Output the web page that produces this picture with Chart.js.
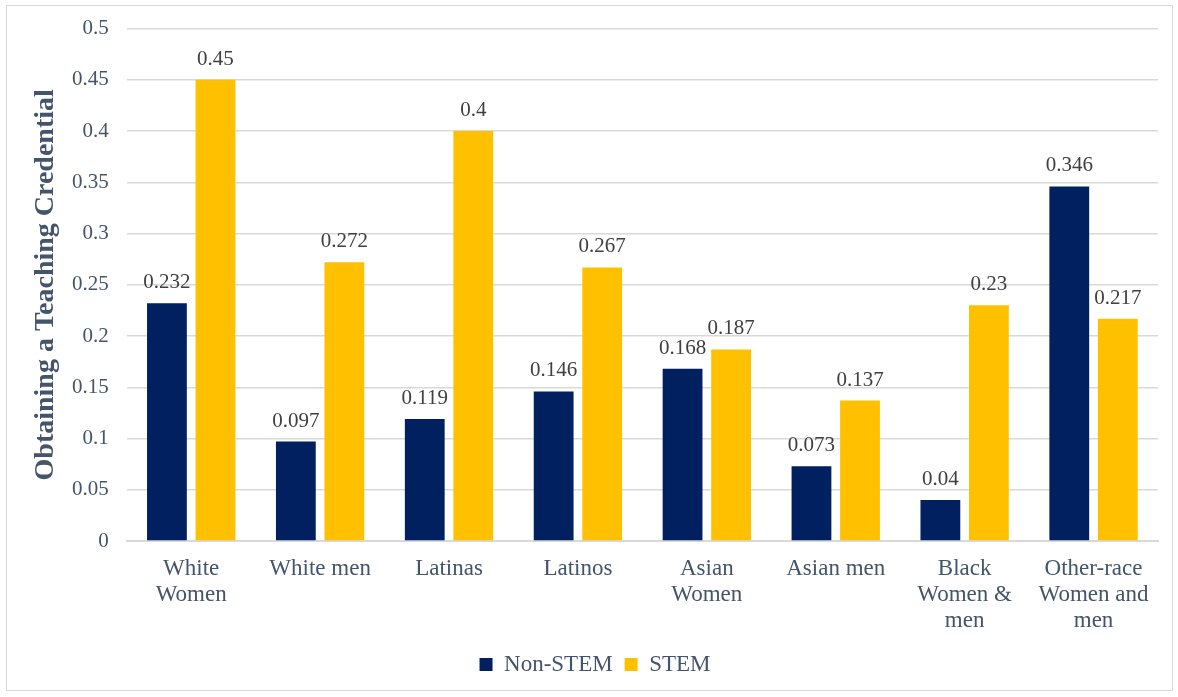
<!DOCTYPE html>
<html>
<head>
<meta charset="utf-8">
<script src="https://cdn.jsdelivr.net/npm/chart.js@4.4.1/dist/chart.umd.min.js"></script>
<style>
  html, body { margin: 0; padding: 0; background: #fff; }
  #frame { position: absolute; left: 6px; top: 5px; width: 1165px; height: 684px; border: 1px solid #d9d9d9; }
  #wrap { position: absolute; left: 0; top: -8px; width: 1165px; height: 692px; }
</style>
</head>
<body>
<div id="frame"><div id="wrap"><canvas id="chart"></canvas></div></div>
<script>
// --- DATA ---
const categories = [
  ['White', 'Women'], 'White men', 'Latinas', 'Latinos', ['Asian', 'Women'],
  'Asian men', ['Black', 'Women &', 'men'], ['Other-race', 'Women and', 'men']
];
const nonStem = [0.232, 0.097, 0.119, 0.146, 0.168, 0.073, 0.04, 0.346];
const stem = [0.45, 0.272, 0.4, 0.267, 0.187, 0.137, 0.23, 0.217];
const yTicks = [0, 0.05, 0.1, 0.15, 0.2, 0.25, 0.3, 0.35, 0.4, 0.45, 0.5];

const serif = '"Liberation Serif", "Times New Roman", serif';
const textColor = '#44546A';
Chart.defaults.font.family = serif;

// draws the value above each bar
const barLabels = {
  id: 'barLabels',
  afterDatasetsDraw(chart) {
    const ctx = chart.ctx;
    ctx.save();
    ctx.font = '21px ' + serif;
    ctx.fillStyle = '#404040';
    ctx.textAlign = 'center';
    ctx.textBaseline = 'bottom';
    chart.data.datasets.forEach((ds, i) => {
      chart.getDatasetMeta(i).data.forEach((bar, j) => {
        ctx.fillText(String(ds.data[j]), bar.x, bar.y - 10);
      });
    });
    ctx.restore();
  }
};

new Chart(document.getElementById('chart'), {
  type: 'bar',
  data: {
    labels: categories,
    datasets: [
      { label: 'Non-STEM', data: nonStem, backgroundColor: '#002060', categoryPercentage: 0.753, barPercentage: 0.82 },
      { label: 'STEM', data: stem, backgroundColor: '#FFC000', categoryPercentage: 0.753, barPercentage: 0.82 }
    ]
  },
  options: {
    responsive: true, maintainAspectRatio: false, animation: false,
    layout: { padding: { left: 25, right: 14, top: 3, bottom: 4 } },
    scales: {
      x: {
        grid: { display: false },
        border: { color: '#d9d9d9', width: 2 },
        ticks: { color: textColor, font: { family: serif, size: 23, lineHeight: 1.13 }, maxRotation: 0, autoSkip: false, padding: 7 }
      },
      y: {
        min: 0, max: 0.5,
        afterBuildTicks: axis => { axis.ticks = yTicks.map(v => ({ value: v })); },
        grid: { color: '#d9d9d9', lineWidth: 1.5, drawTicks: false },
        border: { display: false },
        ticks: { color: textColor, font: { family: serif, size: 21 }, padding: 18, callback: v => String(v) },
        title: { display: true, text: 'Obtaining a Teaching Credential', color: textColor, font: { family: serif, size: 28, weight: 'bold', lineHeight: 1.0 }, padding: { top: 0, bottom: -6 } }
      }
    },
    plugins: {
      legend: {
        position: 'bottom',
        labels: { color: textColor, font: { family: serif, size: 23, lineHeight: 1.0 }, boxWidth: 13, boxHeight: 13, padding: 12 }
      },
      tooltip: { enabled: false }
    }
  },
  plugins: [barLabels]
});
</script>
</body>
</html>
